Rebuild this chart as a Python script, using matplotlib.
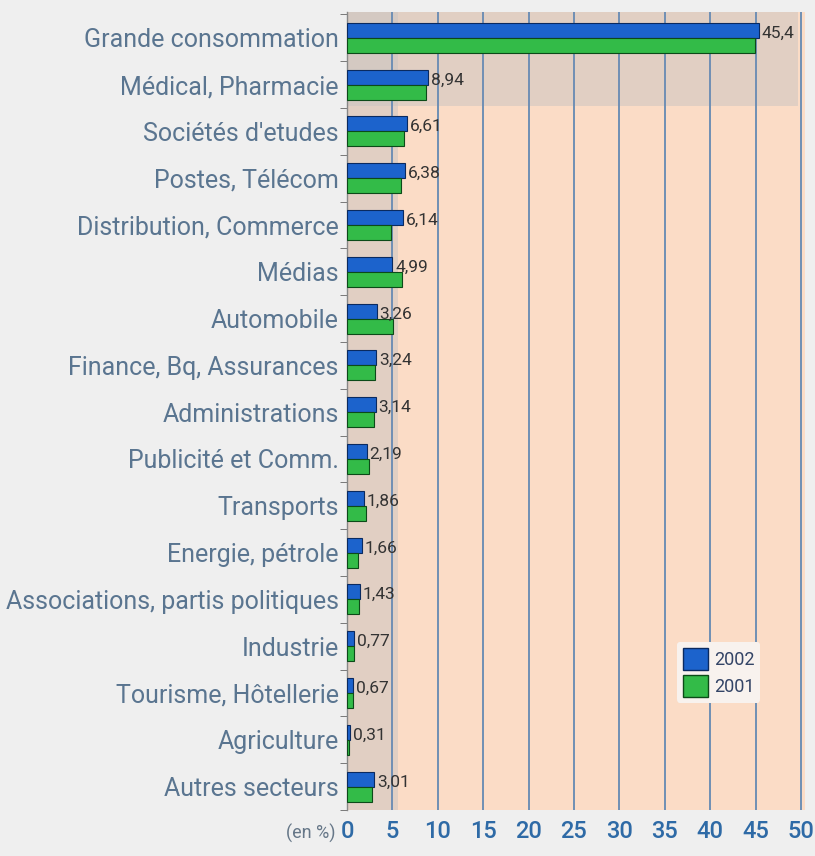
import matplotlib
matplotlib.use("Agg")
import matplotlib.pyplot as plt
import numpy as np
from matplotlib.patches import Patch

categories = ["Grande consommation", "Médical, Pharmacie", "Sociétés d'etudes",
              "Postes, Télécom", "Distribution, Commerce", "Médias", "Automobile",
              "Finance, Bq, Assurances", "Administrations", "Publicité et Comm.",
              "Transports", "Energie, pétrole", "Associations, partis politiques",
              "Industrie", "Tourisme, Hôtellerie", "Agriculture", "Autres secteurs"]
values_2002 = [45.4, 8.94, 6.61, 6.38, 6.14, 4.99, 3.26, 3.24, 3.14, 2.19,
               1.86, 1.66, 1.43, 0.77, 0.67, 0.31, 3.01]
values_2001 = [44.9, 8.75, 6.3, 6.0, 4.8, 6.1, 5.1, 3.05, 2.95, 2.4,
               2.1, 1.2, 1.3, 0.8, 0.7, 0.25, 2.75]
labels_2002 = ["45,4", "8,94", "6,61", "6,38", "6,14", "4,99", "3,26", "3,24", "3,14",
               "2,19", "1,86", "1,66", "1,43", "0,77", "0,67", "0,31", "3,01"]
xticks = [0, 5, 10, 15, 20, 25, 30, 35, 40, 45, 50]
series_names = ["2002", "2001"]

BLUE = "#1c63cc"
GREEN = "#33bb48"
FONT = ["Roboto", "DejaVu Sans"]

fig = plt.figure(figsize=(8.15, 8.56), dpi=100)
fig.patch.set_facecolor("#efefef")
ax = fig.add_axes([347/815, 46/856, 458/815, 798/856])
ax.set_facecolor("#fbdcc6")

# gray shadow zones
ax.axvspan(0, 5.6, color="#c8c4c2", alpha=0.5, zorder=0, lw=0)
ax.axhspan(-0.55, 1.45, xmin=0, xmax=0.985, color="#c8c4c2", alpha=0.5, zorder=0, lw=0)

y = np.arange(len(categories))
h = 0.32
ax.barh(y - h/2, values_2002, height=h, color=BLUE, edgecolor="#0a2a60", lw=0.8, zorder=3)
ax.barh(y + h/2, values_2001, height=h, color=GREEN, edgecolor="#0c4a18", lw=0.8, zorder=3)

for yi, v, lab in zip(y, values_2002, labels_2002):
    ax.text(v + 0.3, yi - 0.1, lab, va="center", ha="left", fontsize=12.5,
            color="#333333", family=FONT, zorder=4)

ax.set_xlim(0, 50.45)
ax.set_ylim(16.5, -0.55)
ax.set_xticks(xticks)
ax.set_xticklabels([str(t) for t in xticks], fontsize=17, color="#2e6aa6",
                   family=FONT, fontweight="medium")
ax.tick_params(axis="x", length=0, pad=7)
ax.set_yticks(y)
ax.set_yticklabels(categories, fontsize=18, color="#5a7590", family=FONT)
ax.tick_params(axis="y", length=0, pad=6)
ax.set_yticks(np.arange(-0.5, 17, 1), minor=True)
ax.tick_params(axis="y", which="minor", length=5, color="#666666", direction="out")

for xv in xticks[1:]:
    ax.axvline(xv, color="#6f8fb4", lw=1.4, zorder=1)

for s in ["top", "right", "bottom"]:
    ax.spines[s].set_visible(False)
ax.spines["left"].set_color("#888888")
ax.spines["left"].set_linewidth(1)

fig.text(335/815, 1 - 833/856, "(en %)", ha="right", va="center", fontsize=13,
         color="#667788", family=FONT)

handles = [Patch(facecolor=BLUE, edgecolor="#0a2a60", label=series_names[0]),
           Patch(facecolor=GREEN, edgecolor="#0c4a18", label=series_names[1])]
leg = ax.legend(handles=handles, loc="upper left", bbox_to_anchor=(0.70, 0.222),
                frameon=True, handlelength=1.4, handleheight=1.5,
                handletextpad=0.3, labelspacing=0.25, borderpad=0.35,
                prop={"family": FONT, "size": 13})
leg.get_frame().set_facecolor("#f8f2ee")
leg.get_frame().set_edgecolor("none")
leg.get_frame().set_alpha(1)
for t in leg.get_texts():
    t.set_color("#334466")

fig.savefig("out.png", dpi=100, facecolor=fig.get_facecolor())
